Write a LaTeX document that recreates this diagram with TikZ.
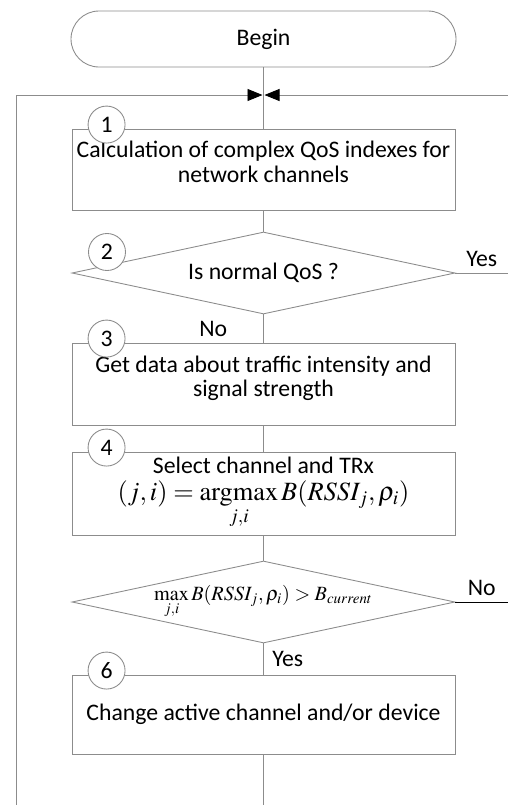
\documentclass[tikz,border=0pt]{standalone}
\usepackage{amsmath}
\usepackage{mathptmx}
\usepackage[no-math]{fontspec}
\setmainfont{Carlito}
\usepackage{xcolor}
\usepackage{tikz}
\usetikzlibrary{arrows.meta, positioning, shapes.geometric, calc}
\definecolor{linegray}{RGB}{140,140,140}

\begin{document}
\begin{tikzpicture}[
  font=\fontsize{13.5}{14}\selectfont,
  flow/.style={draw=linegray, line width=0.5pt},
  box/.style={flow, rectangle, minimum width=7.66cm, align=center, inner sep=0pt},
  decision/.style={flow, diamond, minimum width=7.66cm, minimum height=1.64cm, aspect=4.67, inner sep=0pt, align=center},
  terminal/.style={flow, rectangle, rounded corners=0.56cm, minimum width=7.7cm, minimum height=1.12cm},
  num/.style={flow, circle, fill=white, minimum size=0.74cm, inner sep=0pt},
  tip/.style={-{Triangle[length=0.3cm,width=0.24cm,color=black]}}
]
\useasboundingbox (0,0) rectangle (10.16,-16.1);
% Steps
\node[terminal] (begin) at (5.27,-0.78) {Begin};
\node[box, minimum height=1.62cm] (calc) at (5.27,-3.39) {Calculation of complex QoS indexes for\\network channels\\[-5pt]\mbox{}};
\node[decision] (qos) at (5.27,-5.46) {Is normal QoS ?};
\node[box, minimum height=1.64cm] (getdata) at (5.27,-7.68) {Get data\ about traffic intensity and\\signal strength\\[-5pt]\mbox{}};
\node[box, minimum height=1.66cm] (select) at (5.27,-9.87) {Select channel and TRx\\[1pt]
  {\fontsize{15}{17}\selectfont $\displaystyle (j,i)=\operatorname*{argmax}_{j,i} B(RSSI_j,\rho_i)$}};
\node[decision] (compare) at (5.27,-12.04) {\fontsize{11.5}{13}\selectfont $\displaystyle \max_{j,i} B(RSSI_j,\rho_i) > B_{current}$};
\node[box, minimum height=1.58cm] (change) at (5.27,-14.29) {Change active channel and/or device};
% Loop ends
\coordinate (join) at (5.27,-1.9);
\coordinate (edgeR) at (10.16,-1.9);
\coordinate (bottomL) at (0.32,-16.1);
% Connectors
\draw[flow] (begin) -- (calc);
\draw[flow] (calc) -- (qos);
\draw[flow] (qos) -- (getdata) node[midway, left=0.6cm] {No};
\draw[flow] (qos.east) -- (qos.east -| edgeR) node[midway, above] {Yes};
\draw[flow] (getdata) -- (select);
\draw[flow] (select) -- (compare);
\draw[flow] (compare) -- (change) node[midway, right=0.05cm] {Yes};
\draw[line width=0.5pt] (compare.east) -- (compare.east -| edgeR) node[midway, above] {No};
\draw[flow] (change) -- (change.south |- bottomL);
\draw[flow, tip] (bottomL) |- ($(join)+(-0.02,0)$);
\draw[flow, tip] (edgeR) -- ($(join)+(0.02,0)$);
% Step numbers
\node[num] (n1) at ($(calc.north west)+(0.7,0.08)$) {1};
\node[num] (n2) at ($(qos.center)+(-3.13,0.42)$) {2};
\node[num] (n3) at ($(getdata.north west)+(0.7,0.08)$) {3};
\node[num] (n4) at ($(select.north west)+(0.7,0.08)$) {4};
\node[num] (n6) at ($(change.north west)+(0.7,0.08)$) {6};
\end{tikzpicture}
\end{document}
